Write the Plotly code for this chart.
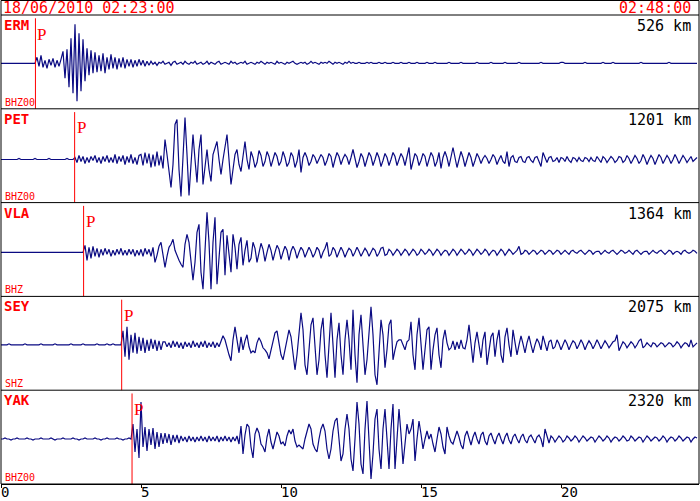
import plotly.graph_objects as go
from plotly.subplots import make_subplots

# ---------------- data ----------------
START_LABEL = "18/06/2010 02:23:00"
END_LABEL = "02:48:00"
STATIONS = ["ERM", "PET", "VLA", "SEY", "YAK"]
CHANNELS = ["BHZ00", "BHZ00", "BHZ", "SHZ", "BHZ00"]
DISTANCES = ["526 km", "1201 km", "1364 km", "2075 km", "2320 km"]
P_ARRIVAL_MIN = [1.23, 2.63, 2.95, 4.31, 4.68]   # minutes after start
SAMPLE_STEP_MIN = 1.0 / 14                        # minutes between samples
X_TICKS = [0, 5, 10, 15, 20]
X_TICK_TEXT = ["0", "5", "10", "15", "20"]

ERM = [0,0,0,0,0,0,0,0,0,0,0,0,0,0,0,0,0,0,
       6,-3,8,-4,3,-5,4,-2,5,-4,3,-3,4,
       12,-15,14,
       -24,25,-30,39,-38,30,-28,24,-18,
       15,-12,13,-10,11,-9,8,
       -8,10,-10,6,-6,9,-5,6,
       -6,5,-4,6,-5,4,-3,4,-4,3,-3,4,-2,3,-3,2,-2,
       2,-1,1,-2,1,0,2,-1,0,1,-2,1,2,-1,0,1,-1,2,0,-1,1,0,2,-1,0,1,-1,0,2,-1,
       1,0,-1,1,2,-1,0,1,0,-1,2,0,1,-1,0,1,0,2,-1,0,1,0,-1,1,0,2,0,-1,1,0,
       1,0,-1,2,0,1,0,-1,1,0,1,2,0,-1,0,1,0,1,-1,0,2,0,1,0,-1,1,0,1,0,2,
       0,-1,1,0,1,0,-1,1,0,2,
       0,1,0,0,1,0,0,0,1,0,1,0,0,0,1,0,0,1,0,0,0,1,0,0,0,1,0,0,0,1,
       0,0,0,1,0,0,0,0,1,0,0,0,1,0,0,0,0,0,0,1,0,0,0,0,0,1,0,0,0,0,
       0,0,0,1,0,0,0,0,0,0,1,0,0,0,0,0,0,1,0,0,0,0,0,0,1,0,0,0,0,0,
       0,0,0,0,0,1,0,0,0,0,0,0,0,0,0,1,1,0,0,0,0,0,0,0,0,0,0,1,0,0,
       0,0,0,0,0,0,1,0,0,0,0,1,0,0,0,0,0,0,0,0,0,0,0,0,0,1,0,0,0,0,
       0,0,0,0,0,0,0,0,0,1,0,0,0,0,0,0,0,0,0,0,0,0,0,0]

PET = [0,0,0,0,0,0,0,0,0,1,0,0,0,0,0,0,0,1,0,0,0,0,0,0,1,0,0,0,0,0,0,0,0,1,0,0,0,
       2,-3,4,-2,3,-4,2,-3,3,-1,4,-3,2,-4,3,-2,4,-3,2,-3,5,-4,3,-2,4,-5,3,-3,5,-4,2,-5,4,
       5,-6,7,-4,6,-8,5,-7,8,-6,4,-9,
       20,5,-10,-28,-5,35,40,-10,-37,10,42,5,-36,-5,25,0,-23,10,25,-25,
       -5,10,-10,-22,5,12,18,0,-15,0,15,25,0,-25,-10,5,10,-5,-12,5,18,0,-10,
       8,2,-8,-3,9,4,-7,-2,8,3,-7,0,7,3,-6,-2,8,2,-7,-3,7,3,-8,-2,10,
       -13,2,7,2,-6,-2,5,2,-4,0,5,2,-6,-1,6,3,-8,0,7,3,-5,1,5,2,-5,
       2,10,1,-8,-2,6,2,-7,0,7,3,-6,0,7,2,-7,-1,6,2,-6,0,7,3,-6,0,
       6,2,-6,3,12,-10,-3,6,3,-6,-1,6,3,-7,0,7,3,-7,-2,7,-9,2,8,2,-7,
       3,12,2,-8,0,8,2,-7,0,7,2,-7,-1,6,2,-4,1,4,1,-4,0,5,2,-5,0,
       4,-2,-4,8,-7,2,4,-2,-3,2,3,-2,-3,2,3,-1,-3,2,3,-2,-7,7,1,-3,2,
       3,-2,-1,2,-3,2,1,-2,3,-1,-3,2,1,-2,2,-1,-2,2,1,-2,2,-1,-2,3,0,
       -3,3,1,-3,0,3,1,-3,-1,3,2,-3,-1,4,1,-4,0,4,1,-4,-1,5,1,-5,0,4,1,-5,0,5,
       2,-4,0,4,1,-4,0,5,1,-4,0,4,1,-3,0,3,-2,0,2]

VLA = [0,0,0,0,0,0,0,0,0,0,0,0,0,0,0,0,0,0,0,0,0,0,0,0,0,0,0,0,0,0,0,0,0,0,0,0,0,0,0,0,0,0,
       7,-8,5,-6,6,-4,4,-5,
       3,-3,4,-2,3,-4,2,-3,3,-2,4,-3,2,-3,3,-2,3,-4,2,-3,
       3,-4,4,-2,3,-4,5,-10,-3,6,10,-2,
       -15,-4,5,8,13,2,-4,-8,-12,-15,8,18,10,-10,-28,-10,20,28,
       -20,-37,5,40,10,-37,10,35,-32,-10,20,23,-23,17,-5,-20,18,5,-17,8,15,-13,2,12,-10,
       -6,10,4,-10,-2,9,3,-9,0,8,2,-8,0,7,3,-7,0,6,2,-8,1,6,2,-6,0,
       5,2,-5,0,5,1,-5,-1,5,2,-6,0,4,10,-4,-2,5,2,-5,0,5,1,-5,0,4,
       2,-4,0,5,1,-4,0,4,1,-4,0,4,2,-4,-1,4,5,-3,-2,3,1,-3,0,3,1,
       -3,0,3,1,-3,0,3,1,-3,-1,3,1,-2,0,3,1,-3,0,3,1,-3,0,2,1,-3,
       0,3,1,-3,0,3,1,-2,0,3,1,-3,0,3,1,-2,0,3,1,-3,0,2,1,-3,0,
       3,1,-3,0,3,1,-2,0,2,6,-2,-1,2,1,-2,0,2,1,-2,0,2,1,-2,0,2,
       1,-2,0,2,1,-2,0,2,0,-2,1,2,0,-1,1,2,0,-2,0,2,1,-2,0,1,1,-2,0,2,0,-1,
       1,2,0,-2,0,2,1,-1,0,2,0,-2,1,2,0,-2,0,1,1,-2,0,2,0,-1,1,2,0,-2,0,2,
       1,-2,0,1,0,-2,1,2,0,-1,0,2,1,-1]

SEY = [0,0,0,0,1,0,0,0,0,0,0,0,1,0,0,0,0,0,0,0,1,0,0,0,0,0,0,1,0,0,
       0,0,0,0,0,1,0,0,0,0,0,1,0,0,0,0,0,0,1,0,0,0,0,1,0,0,1,0,0,0,0,
       14,-12,18,-15,10,-8,12,
       -9,8,-6,7,-8,5,-6,6,-4,5,-6,4,-5,3,
       3,-2,2,-3,4,-2,3,-3,2,-4,3,-2,2,-3,4,-2,2,-3,3,-2,4,-3,2,-2,3,-3,2,-2,3,
       9,5,-4,-10,-16,5,18,6,-8,8,-5,4,10,-2,-8,-6,-8,2,7,3,
       -3,-5,-8,-14,-5,6,12,14,2,-10,-15,-5,8,15,8,-10,-25,-10,15,
       32,15,-20,-30,-5,20,27,0,-30,-15,15,27,-10,-33,0,32,0,-33,5,22,
       -10,-30,5,25,5,-25,35,-10,-38,10,30,0,-30,-15,15,38,10,-30,-40,0,
       25,10,-23,-5,20,25,-15,-5,3,5,
       5,0,-5,3,5,23,-10,-25,10,27,0,-25,-5,15,18,-25,-5,10,17,-10,-23,5,15,2,-5,
       -3,4,-5,3,-4,5,-3,-4,5,20,0,-18,2,13,0,-13,5,13,-20,-5,8,12,-12,5,15,
       -10,-18,8,17,0,-12,15,3,-10,0,9,1,-8,2,9,0,-8,0,6,2,-5,9,0,-6,3,
       5,-4,-2,5,1,-5,0,5,1,-5,0,4,2,-4,0,5,1,-5,0,4,1,-4,0,5,1,
       -4,0,4,1,-3,0,3,4,10,-6,-2,3,1,-3,0,3,1,-3,0,4,6,-3,-1,2,0,
       -2,2,1,-2,0,2,1,-2,0,2,1,-2,0,3,1,-3,0,2,1,-2,5,-2,0,2]

YAK = [0,0,1,0,0,-1,0,0,1,0,0,0,0,1,0,0,-1,0,0,0,1,0,0,0,0,1,0,-1,0,0,
       0,1,0,0,0,0,1,0,0,-1,0,0,1,0,0,0,0,1,0,0,-1,0,0,1,0,0,0,0,1,0,
       0,-1,0,0,1,0,
       15,-13,10,-19,
       37,-8,12,-12,10,-6,11,-10,7,-8,
       6,-5,6,-4,5,-6,4,-3,4,-4,
       3,-2,2,-3,3,-2,2,-3,2,-2,3,-2,2,-3,3,-2,2,-2,3,-3,2,-2,3,-2,2,-3,2,-2,3,
       -5,13,-15,4,15,12,-8,-19,5,11,6,-5,-8,-13,2,10,-3,-10,0,7,3,-5,-3,-7,3,9,5,10,-2,-8,-6,
       -8,-10,0,8,15,10,-5,-10,-13,0,10,15,8,-10,-20,-10,8,18,21,0,
       -22,-15,10,25,10,-20,-32,0,37,15,-25,-35,10,38,5,-40,-15,20,30,-10,
       -30,10,30,-5,-30,10,35,-30,5,30,
       5,-25,-5,15,5,10,20,-22,0,18,5,-10,0,8,0,5,-5,-13,0,12,5,-8,-15,12,3,
       -3,-5,3,8,2,-6,-10,3,8,0,-6,2,7,0,-5,4,7,-2,-6,3,6,0,-5,2,6,
       0,-5,2,6,-1,-5,2,5,0,-4,2,5,-1,-4,2,4,0,-4,2,4,0,-8,10,2,-4,
       3,1,-3,0,3,1,-3,-1,3,1,-2,0,3,1,-3,0,3,1,-2,0,2,1,-3,0,3,
       1,-2,0,3,1,-3,0,2,1,-2,0,3,1,-2,-1,3,1,-2,0,2,1,-3,0,3,1,
       -2,0,2,1,-2,0,3,1,-3,0,2,1,-2,0,3,1,-2,0,2,1,-3,0,2,1]

TRACES = [ERM, PET, VLA, SEY, YAK]

# ---------------- layout / style ----------------
W, H = 700, 501
M_L, M_R, M_T, M_B = 1, 1, 15, 17
PLOT_H = H - M_T - M_B
PANEL_H = PLOT_H / 5
X_RANGE = [0, (W - M_L - M_R) / 28.0]
# baseline pixel row of each trace (for y-range offsets)
BASE_PX = [63.3, 159.5, 252.3, 344.8, 439.0]
WAVE = "#0a0a82"
RED = "#ff0000"
MONO = "DejaVu Sans Mono"

fig = make_subplots(rows=5, cols=1, shared_xaxes=True, vertical_spacing=0)

for k, vals in enumerate(TRACES):
    t = [i * SAMPLE_STEP_MIN for i in range(len(vals))]
    fig.add_trace(go.Scatter(x=t, y=vals, mode="lines",
                             line=dict(color=WAVE, width=1.2),
                             hoverinfo="skip", showlegend=False),
                  row=k + 1, col=1)
    top_px = M_T + k * PANEL_H
    bot_px = top_px + PANEL_H
    base = BASE_PX[k]
    fig.update_yaxes(range=[-(bot_px - base), base - top_px], visible=False,
                     fixedrange=True, automargin=False, row=k + 1, col=1)
    fig.update_xaxes(range=X_RANGE, showgrid=False, zeroline=False,
                     automargin=False, fixedrange=True,
                     showticklabels=False, row=k + 1, col=1)

    yref = "y domain" if k == 0 else f"y{k+1} domain"
    xref = "x" if k == 0 else f"x{k+1}"
    # P-arrival line
    fig.add_shape(type="line", xref=xref, yref=yref,
                  x0=P_ARRIVAL_MIN[k], x1=P_ARRIVAL_MIN[k], y0=0, y1=0.965,
                  line=dict(color=RED, width=1))
    fig.add_annotation(xref=xref, yref=yref, x=P_ARRIVAL_MIN[k], y=0.92,
                       xanchor="left", yanchor="top", xshift=0, text="P",
                       showarrow=False,
                       font=dict(family="Liberation Serif", size=17, color=RED))
    # station name
    fig.add_annotation(xref="paper", yref=yref, x=0.003, y=1.0, xanchor="left",
                       yanchor="top", yshift=-1, borderpad=0,
                       text=f"<b>{STATIONS[k]}</b>",
                       showarrow=False, font=dict(family=MONO, size=14, color=RED))
    # channel
    fig.add_annotation(xref="paper", yref=yref, x=0.003, y=0.0, xanchor="left",
                       yanchor="bottom", yshift=-1, text=CHANNELS[k],
                       showarrow=False, font=dict(family=MONO, size=10, color=RED))
    # distance
    fig.add_annotation(xref="paper", yref=yref, x=0.99, y=1.0, xanchor="right",
                       yanchor="top", yshift=-1, borderpad=0, text=DISTANCES[k],
                       showarrow=False, font=dict(family=MONO, size=15, color="black"))

# bottom axis: ticks from the axis, labels left-aligned at each tick
fig.update_xaxes(showticklabels=False, tickvals=X_TICKS,
                 ticks="outside", ticklen=3, tickcolor="black", tickwidth=1,
                 showline=True, linecolor="black", linewidth=1, row=5, col=1)
for v, txt in zip(X_TICKS, X_TICK_TEXT):
    fig.add_annotation(xref="x5", yref="paper", x=v, y=0, xanchor="left",
                       yanchor="top", yshift=1, xshift=-1, borderpad=0, text=txt,
                       showarrow=False, font=dict(family=MONO, size=14, color="black"))

# frame and separators
top_paper = 1 + (M_T - 0.5) / PLOT_H
fig.add_shape(type="rect", xref="paper", yref="paper", x0=0, x1=1, y0=0,
              y1=top_paper, line=dict(color="black", width=1))
for k in range(1, 6):
    fig.add_shape(type="line", xref="paper", yref="paper", x0=0, x1=1,
                  y0=k / 5, y1=k / 5, line=dict(color="black", width=1))

# header texts
fig.add_annotation(xref="paper", yref="paper", x=0.002, y=1 + 7.5 / PLOT_H,
                   xanchor="left", yanchor="middle", borderpad=0, text=START_LABEL,
                   showarrow=False, font=dict(family=MONO, size=15, color=RED))
fig.add_annotation(xref="paper", yref="paper", x=0.99, y=1 + 7.5 / PLOT_H,
                   xanchor="right", yanchor="middle", borderpad=0, text=END_LABEL,
                   showarrow=False, font=dict(family=MONO, size=15, color=RED))

fig.update_layout(width=W, height=H,
                  margin=dict(l=M_L, r=M_R, t=M_T, b=M_B, pad=0, autoexpand=False),
                  plot_bgcolor="white", paper_bgcolor="white",
                  hovermode=False, showlegend=False)

fig.write_html("out.html",
               config={"displayModeBar": False, "staticPlot": True},
               post_script="document.body.style.margin='0';"
                           "document.body.style.padding='0';"
                           "document.body.style.overflow='hidden';")
